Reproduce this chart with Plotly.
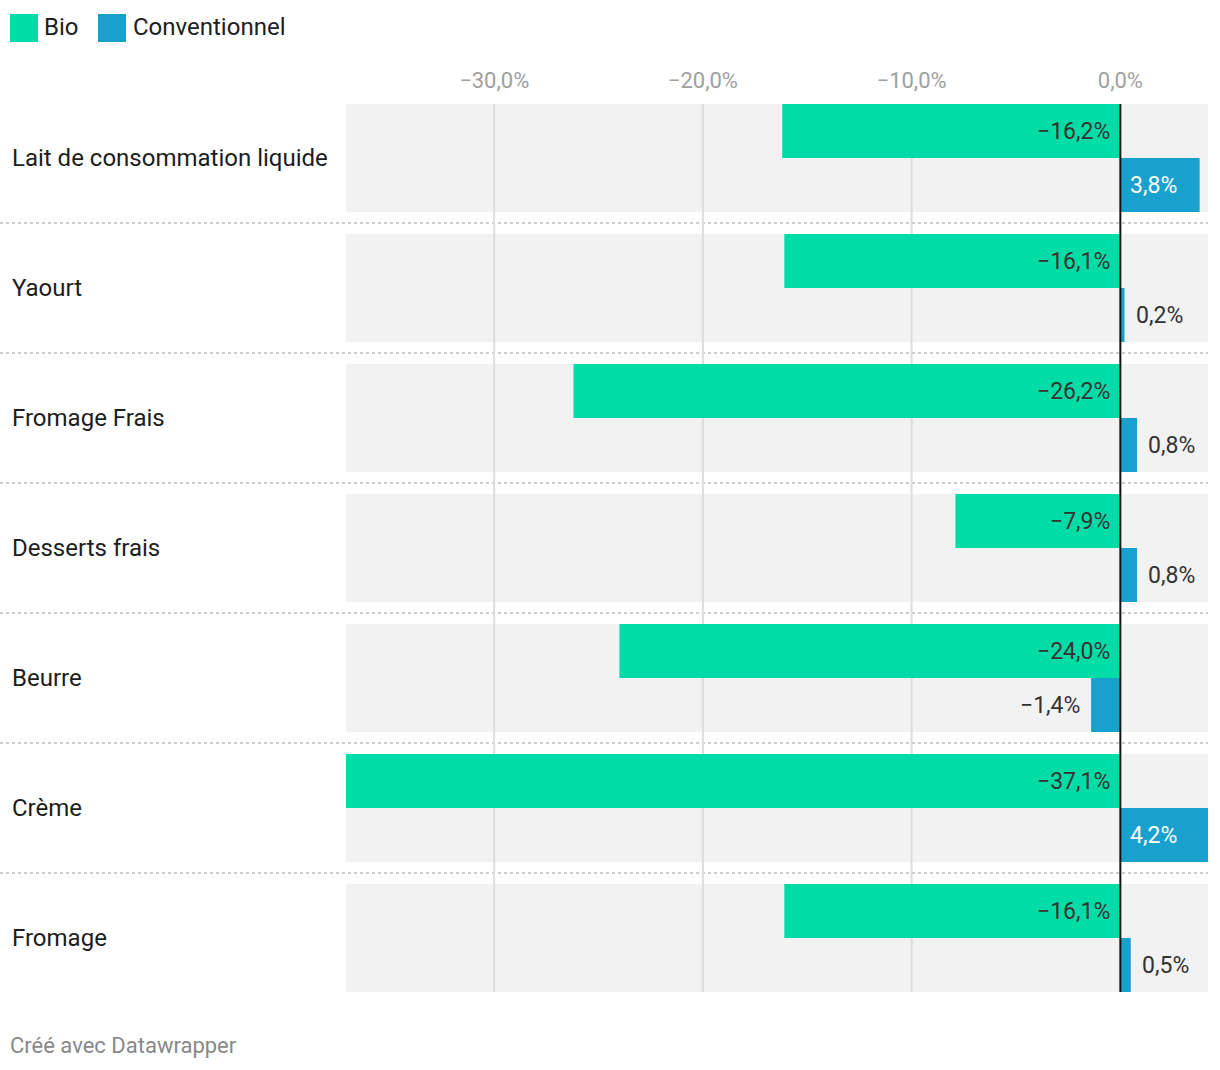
import plotly.graph_objects as go

categories = ["Lait de consommation liquide", "Yaourt", "Fromage Frais",
              "Desserts frais", "Beurre", "Crème", "Fromage"]
bio = [-16.2, -16.1, -26.2, -7.9, -24.0, -37.1, -16.1]
conv = [3.8, 0.2, 0.8, 0.8, -1.4, 4.2, 0.5]
tick_vals = [-30, -20, -10, 0]
tick_text = ["−30,0%", "−20,0%", "−10,0%", "0,0%"]

BIO_C = "#00dca6"
CONV_C = "#18a1cd"
W, H = 1220, 1070
FONT = "Roboto"
VAL_SIZE = 23

def fmt(v):
    s = f"{abs(v):.1f}".replace(".", ",") + "%"
    return ("−" + s) if v < 0 else s

xmin, xmax = min(bio + conv), max(bio + conv)
ydom = [1 - 1003 / H, 1 - 93 / H]
gapfrac = 22 / 130

fig = go.Figure()
fig.add_trace(go.Bar(y=categories, x=bio, orientation="h", name="Bio",
                     marker=dict(color=BIO_C, line=dict(width=0)), hoverinfo="skip"))
fig.add_trace(go.Bar(y=categories, x=conv, orientation="h", name="Conventionnel",
                     marker=dict(color=CONV_C, line=dict(width=0)), hoverinfo="skip"))

shapes = []
annotations = []
n = len(categories)
for i, c in enumerate(categories):
    shapes.append(dict(type="rect", xref="x", yref="y", x0=xmin, x1=xmax,
                       y0=i - 0.5 + gapfrac / 2, y1=i + 0.5 - gapfrac / 2,
                       fillcolor="#f2f2f2", line=dict(width=0), layer="below"))
    if i < n - 1:
        shapes.append(dict(type="line", xref="paper", yref="y", x0=0, x1=1208 / W,
                           y0=i + 0.5, y1=i + 0.5,
                           line=dict(color="#cccccc", width=2, dash="dot"), layer="below"))
    annotations.append(dict(x=10 / W, xref="paper", xanchor="left", y=c, yref="y",
                            text=c, showarrow=False,
                            font=dict(family=FONT, size=24, color="#1d1d1d")))
    annotations.append(dict(x=0, xref="x", xanchor="right", xshift=-8, y=c, yref="y",
                            yshift=27, text=fmt(bio[i]), showarrow=False,
                            font=dict(family=FONT, size=VAL_SIZE, color="#333333")))
    v = conv[i]
    if v >= 3:
        annotations.append(dict(x=0, xref="x", xanchor="left", xshift=8, y=c, yref="y",
                                yshift=-27, text=fmt(v), showarrow=False,
                                font=dict(family=FONT, size=VAL_SIZE, color="#ffffff")))
    elif v >= 0:
        annotations.append(dict(x=v, xref="x", xanchor="left", xshift=9, y=c, yref="y",
                                yshift=-27, text=fmt(v), showarrow=False,
                                font=dict(family=FONT, size=VAL_SIZE, color="#333333")))
    else:
        annotations.append(dict(x=v, xref="x", xanchor="right", xshift=-9, y=c, yref="y",
                                yshift=-27, text=fmt(v), showarrow=False,
                                font=dict(family=FONT, size=VAL_SIZE, color="#333333")))

band_top = -0.5 + gapfrac / 2
band_bot = n - 0.5 - gapfrac / 2
for t in tick_vals[:-1]:
    shapes.append(dict(type="line", xref="x", yref="y", x0=t, x1=t, y0=band_top, y1=band_bot,
                       line=dict(color="#dddddd", width=2), layer="below"))
shapes.append(dict(type="line", xref="x", yref="y", x0=0, x1=0, y0=band_top, y1=band_bot,
                   line=dict(color="#111111", width=2), layer="above"))

legend_items = [("Bio", BIO_C, 10, 42), ("Conventionnel", CONV_C, 98, 131)]
for name, col, sx, tx in legend_items:
    shapes.append(dict(type="rect", xref="paper", yref="paper",
                       x0=sx / W, x1=(sx + 28) / W, y0=1 - 42 / H, y1=1 - 14 / H,
                       fillcolor=col, line=dict(width=0)))
    annotations.append(dict(x=tx / W, xref="paper", xanchor="left", y=1 - 27 / H, yref="paper",
                            yanchor="middle", text=name, showarrow=False,
                            font=dict(family=FONT, size=24, color="#1d1d1d")))

annotations.append(dict(x=8 / W, xref="paper", xanchor="left", y=1 - 1045 / H, yref="paper",
                        yanchor="middle", text="Créé avec Datawrapper", showarrow=False,
                        font=dict(family=FONT, size=22, color="#888888")))

fig.update_layout(
    width=W, height=H, margin=dict(l=0, r=0, t=0, b=0),
    paper_bgcolor="white", plot_bgcolor="white",
    barmode="group", bargap=gapfrac, bargroupgap=0,
    showlegend=False,
    shapes=shapes, annotations=annotations,
    xaxis=dict(domain=[346 / W, 1208 / W], range=[xmin, xmax], side="top",
               tickvals=tick_vals, ticktext=tick_text, showgrid=False, zeroline=False,
               tickfont=dict(family=FONT, size=22, color="#a0a0a0"), ticks="", fixedrange=True),
    yaxis=dict(domain=ydom, type="category", categoryarray=categories, categoryorder="array",
               range=[n - 0.5, -0.5], showticklabels=False, showgrid=False, zeroline=False,
               fixedrange=True),
)

fig.write_html("out.html")
